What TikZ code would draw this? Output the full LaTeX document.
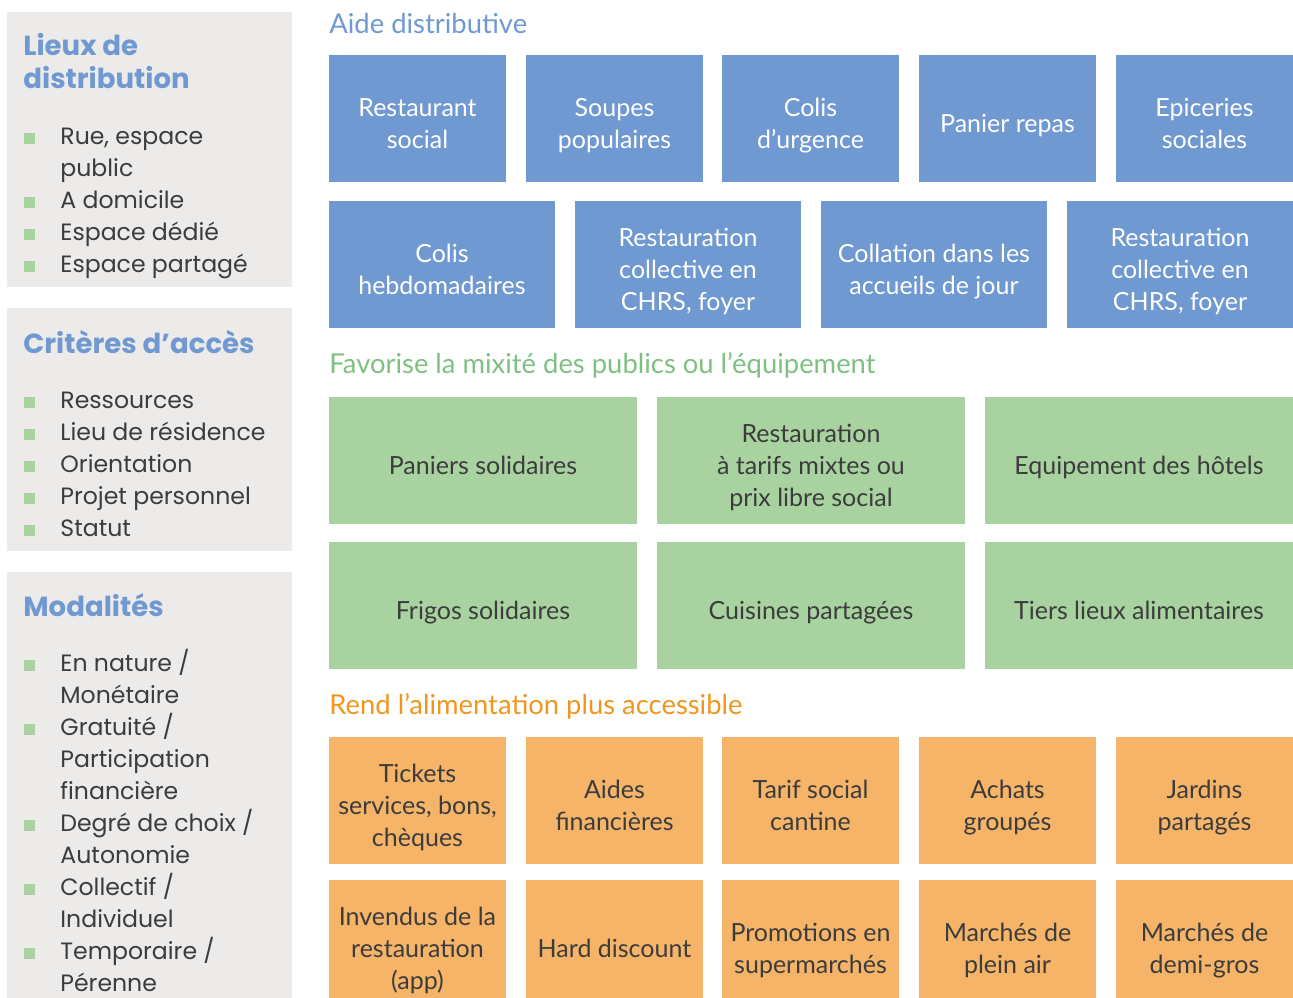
\documentclass[tikz,border=0pt]{standalone}
\usepackage{fontspec}
\setmainfont{Lato}
\newfontfamily\listfont{Poppins}
\usepackage{tikz}
\usetikzlibrary{positioning}
\definecolor{aideblue}{HTML}{7099D1}
\definecolor{mixgreen}{HTML}{A8D3A0}
\definecolor{mixtitle}{HTML}{7FBF82}
\definecolor{accorange}{HTML}{F5B468}
\definecolor{acctitle}{HTML}{F0961E}
\definecolor{panelgrey}{HTML}{EDEBE9}
\definecolor{textgrey}{HTML}{3C3C3C}
% centred lines, set a little below the middle of the box
\newcommand{\boxlines}[1]{\raisebox{-3.7pt}[\height][\depth]{\begin{tabular}{@{}c@{}}#1\end{tabular}}}

\begin{document}
\begin{tikzpicture}[x=0.5pt, y=-0.5pt,
    box/.style={inner sep=0pt, minimum height=63.5pt,
      font=\fontsize{12.5}{16}\selectfont},
    aidebox/.style={box, fill=aideblue, text=white},
    mixbox/.style={box, fill=mixgreen, text=textgrey, minimum width=154pt},
    accbox/.style={box, fill=accorange, text=textgrey, minimum width=88.5pt},
    secttitle/.style={anchor=base west, inner sep=0pt, font=\fontsize{13.7}{16}\selectfont},
    heading/.style={anchor=base west, inner sep=0pt, align=left, text=aideblue,
      font=\listfont\bfseries\fontsize{13.8}{16.5}\selectfont},
    item/.style={anchor=base west, inner sep=0pt, align=left, text=textgrey,
      font=\listfont\fontsize{11.8}{16}\selectfont},
    puce/.style={fill=mixgreen}]
  \clip (0,0) rectangle (1293,997);

  % left column: three grey panels
  \fill[panelgrey] (7,12) rectangle (292,287);
  \fill[panelgrey] (7,308) rectangle (292,551);
  \fill[panelgrey] (7,572) rectangle (292,1000);

  % (multi-line nodes sit on their last baseline)
  \node[heading] (lieux) at (23,88) {Lieux de\\distribution};
  \node[item] (rue) at (60,176) {Rue, espace\\public};
  \node[item] (domicile) at (60,208) {A domicile};
  \node[item] (dedie) at (60,240) {Espace dédié};
  \node[item] (partage) at (60,272) {Espace partagé};

  \node[heading] (criteres) at (23,353) {Critères d’accès};
  \node[item] (ressources) at (60,408) {Ressources};
  \node[item] (residence) at (60,440) {Lieu de résidence};
  \node[item] (orientation) at (60,472) {Orientation};
  \node[item] (projet) at (60,504) {Projet personnel};
  \node[item] (statut) at (60,536) {Statut};

  \node[heading] (modalites) at (23,616) {Modalités};
  \node[item] (nature) at (60,703) {En nature /\\Monétaire};
  \node[item] (gratuite) at (60,799) {Gratuité /\\Participation\\financière};
  \node[item] (choix) at (60,863) {Degré de choix /\\Autonomie};
  \node[item] (collectif) at (60,927) {Collectif /\\Individuel};
  \node[item] (temporaire) at (60,991) {Temporaire /\\Pérenne};

  % green square bullets
  \foreach \y in {144,208,240,272,408,440,472,504,536,671,735,831,895,959}
    \fill[puce] (24,\y-11) rectangle (35,\y);

  % aide distributive
  \node[secttitle, text=aideblue] (aidetitle) at (329,33) {Aide distributive};
  \node[aidebox, minimum width=88.5pt] (aide1) at (417.5,118.5) {\boxlines{Restaurant\\social}};
  \node[aidebox, minimum width=88.5pt] (aide2) at (614.5,118.5) {\boxlines{Soupes\\populaires}};
  \node[aidebox, minimum width=88.5pt] (aide3) at (810.5,118.5) {\boxlines{Colis\\d’urgence}};
  \node[aidebox, minimum width=88.5pt] (aide4) at (1007.5,118.5) {\boxlines{Panier repas}};
  \node[aidebox, minimum width=88.5pt] (aide5) at (1204.5,118.5) {\boxlines{Epiceries\\sociales}};
  \node[aidebox, minimum width=113pt] (aide6) at (442,264.5) {\boxlines{Colis\\hebdomadaires}};
  \node[aidebox, minimum width=113pt] (aide7) at (688,264.5) {\boxlines{Restauration\\collective en\\CHRS, foyer}};
  \node[aidebox, minimum width=113pt] (aide8) at (934,264.5) {\boxlines{Collation dans les\\accueils de jour}};
  \node[aidebox, minimum width=113pt] (aide9) at (1180,264.5) {\boxlines{Restauration\\collective en\\CHRS, foyer}};

  % mixite des publics
  \node[secttitle, text=mixtitle] (mixtitle) at (329,373) {Favorise la mixité des publics ou l’équipement};
  \node[mixbox] (mix1) at (483,460.5) {\boxlines{Paniers solidaires}};
  \node[mixbox] (mix2) at (811,460.5) {\boxlines{Restauration\\à tarifs mixtes ou\\prix libre social}};
  \node[mixbox] (mix3) at (1139,460.5) {\boxlines{Equipement des hôtels}};
  \node[mixbox] (mix4) at (483,605.5) {\boxlines{Frigos solidaires}};
  \node[mixbox] (mix5) at (811,605.5) {\boxlines{Cuisines partagées}};
  \node[mixbox] (mix6) at (1139,605.5) {\boxlines{Tiers lieux alimentaires}};

  % alimentation accessible
  \node[secttitle, text=acctitle] (acctitle) at (329,714) {Rend l’alimentation plus accessible};
  \node[accbox] (acc1) at (417.5,800.5) {\boxlines{Tickets\\services, bons,\\chèques}};
  \node[accbox] (acc2) at (614.5,800.5) {\boxlines{Aides\\financières}};
  \node[accbox] (acc3) at (810.5,800.5) {\boxlines{Tarif social\\cantine}};
  \node[accbox] (acc4) at (1007.5,800.5) {\boxlines{Achats\\groupés}};
  \node[accbox] (acc5) at (1204.5,800.5) {\boxlines{Jardins\\partagés}};
  \node[accbox] (acc6) at (417.5,943.5) {\boxlines{Invendus de la\\restauration\\(app)}};
  \node[accbox] (acc7) at (614.5,943.5) {\boxlines{Hard discount}};
  \node[accbox] (acc8) at (810.5,943.5) {\boxlines{Promotions en\\supermarchés}};
  \node[accbox] (acc9) at (1007.5,943.5) {\boxlines{Marchés de\\plein air}};
  \node[accbox] (acc10) at (1204.5,943.5) {\boxlines{Marchés de\\demi-gros}};
\end{tikzpicture}
\end{document}
